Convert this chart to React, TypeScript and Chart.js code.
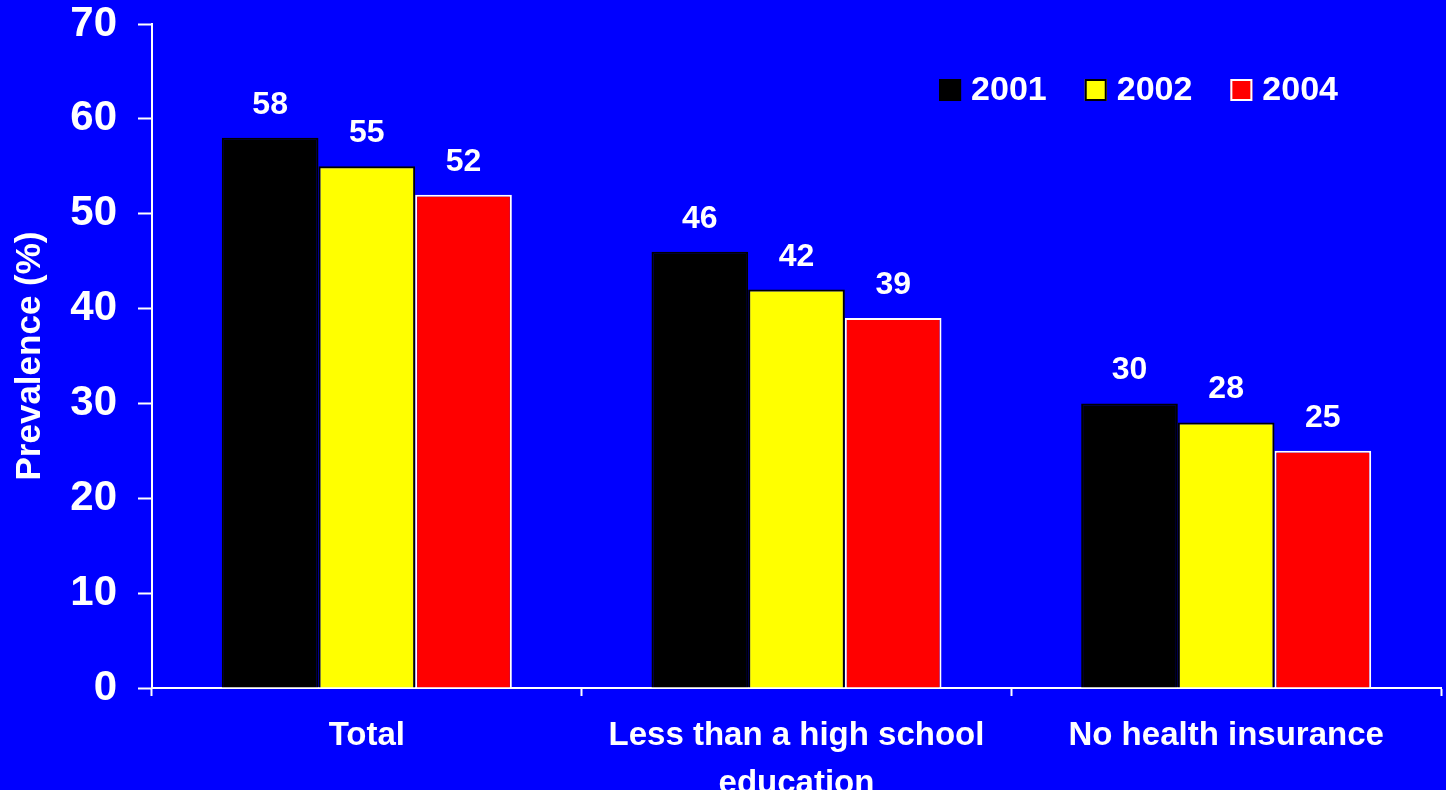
import React, { useEffect, useRef } from "react";
import { Chart, registerables } from "chart.js";

Chart.register(...registerables);

const categories: (string | string[])[] = [
  "Total",
  ["Less than a high school", "education"],
  "No health insurance",
];
const seriesNames = ["2001", "2002", "2004"];
const values2001 = [58, 46, 30];
const values2002 = [55, 42, 28];
const values2004 = [52, 39, 25];
const yTicks = [0, 10, 20, 30, 40, 50, 60, 70];

const FONT = "Arial, 'Liberation Sans', Helvetica, sans-serif";
const BG = "#0000FF";

// Writes each bar's value above it
const valueLabels = {
  id: "valueLabels",
  afterDatasetsDraw(chart: any) {
    const ctx = chart.ctx;
    ctx.save();
    ctx.fillStyle = "#ffffff";
    ctx.font = `bold 32px ${FONT}`;
    ctx.textAlign = "center";
    ctx.textBaseline = "alphabetic";
    chart.data.datasets.forEach((ds: any, i: number) => {
      const meta = chart.getDatasetMeta(i);
      meta.data.forEach((bar: any, j: number) => {
        ctx.fillText(String(ds.data[j]), bar.x, bar.y - 24);
      });
    });
    ctx.restore();
  },
};

// Horizontal legend drawn inside the plot, near the top right
const insideLegend = {
  id: "insideLegend",
  afterDraw(chart: any) {
    const ctx = chart.ctx;
    const box = 22;
    const gap = 10;
    const itemGap = 38;
    ctx.save();
    ctx.font = `bold 34px ${FONT}`;
    ctx.textBaseline = "middle";
    ctx.textAlign = "left";
    const items = chart.data.datasets.map((ds: any) => ({
      ds,
      w: ctx.measureText(ds.label).width,
    }));
    const total =
      items.reduce((s: number, it: any) => s + box + gap + it.w, 0) +
      itemGap * (items.length - 1);
    let x = chart.chartArea.right - 103 - total;
    const cy = chart.chartArea.top + 66;
    items.forEach((it: any) => {
      ctx.fillStyle = it.ds.backgroundColor;
      ctx.fillRect(x, cy - box / 2, box, box);
      ctx.strokeStyle = it.ds.borderColor;
      ctx.lineWidth = 2;
      ctx.strokeRect(x + 1, cy - box / 2 + 1, box - 2, box - 2);
      ctx.fillStyle = "#ffffff";
      ctx.fillText(it.ds.label, x + box + gap, cy + 1);
      x += box + gap + it.w + itemGap;
    });
    ctx.restore();
  },
};

export default function App() {
  const canvasRef = useRef<HTMLCanvasElement>(null);

  useEffect(() => {
    const canvas = canvasRef.current;
    if (!canvas) return;
    const chart = new Chart(canvas, {
      type: "bar",
      data: {
        labels: categories,
        datasets: [
          {
            label: seriesNames[0],
            data: values2001,
            backgroundColor: "#000000",
            borderColor: "#000000",
            borderWidth: 2,
          },
          {
            label: seriesNames[1],
            data: values2002,
            backgroundColor: "#FFFF00",
            borderColor: "#000000",
            borderWidth: 2,
          },
          {
            label: seriesNames[2],
            data: values2004,
            backgroundColor: "#FF0000",
            borderColor: "#FFFFFF",
            borderWidth: 2,
          },
        ],
      },
      options: {
        animation: false,
        responsive: true,
        maintainAspectRatio: false,
        layout: { padding: { top: 24, right: 5, left: 0, bottom: 0 } },
        datasets: {
          bar: { categoryPercentage: 0.675, barPercentage: 1 },
        },
        plugins: {
          legend: { display: false },
          tooltip: { enabled: false },
        },
        scales: {
          x: {
            offset: true,
            grid: {
              offset: true,
              drawOnChartArea: false,
              drawTicks: true,
              tickLength: 8,
              tickColor: "#ffffff",
              tickWidth: 2,
            },
            border: { display: true, color: "#ffffff", width: 2 },
            ticks: {
              color: "#ffffff",
              padding: 16,
              maxRotation: 0,
              autoSkip: false,
              font: { family: FONT, size: 33, weight: "bold", lineHeight: 1.45 },
            },
            afterFit(scale: any) {
              scale.height = 102;
              scale.paddingLeft = 0;
              scale.paddingRight = 0;
            },
          },
          y: {
            min: 0,
            max: 70,
            afterBuildTicks(scale: any) {
              scale.ticks = yTicks.map((v) => ({ value: v }));
            },
            grid: {
              drawOnChartArea: false,
              drawTicks: true,
              tickLength: 14,
              tickColor: "#ffffff",
              tickWidth: 2,
            },
            border: { display: true, color: "#ffffff", width: 2 },
            ticks: {
              color: "#ffffff",
              padding: 21,
              font: { family: FONT, size: 42, weight: "bold" },
            },
            title: {
              display: true,
              text: "Prevalence (%)",
              color: "#ffffff",
              padding: { top: 9, bottom: 0 },
              font: { family: FONT, size: 35, weight: "bold", lineHeight: 1.2 },
            },
            afterFit(scale: any) {
              scale.width = 152;
              scale.paddingTop = 0;
              scale.paddingBottom = 0;
            },
          },
        },
      },
      plugins: [valueLabels, insideLegend],
    });
    return () => chart.destroy();
  }, []);

  return (
    <div
      style={{
        position: "fixed",
        left: 0,
        top: 0,
        width: 1446,
        height: 790,
        background: BG,
      }}
    >
      <canvas ref={canvasRef} />
    </div>
  );
}
